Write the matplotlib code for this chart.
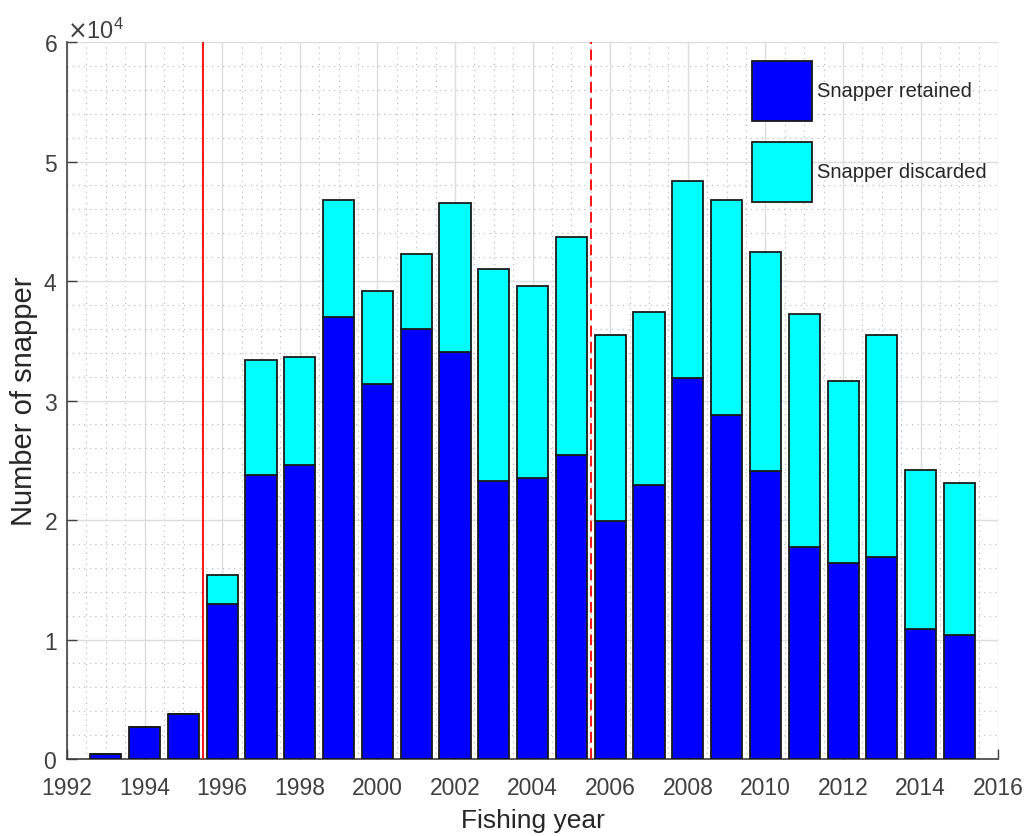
import numpy as np
import matplotlib.pyplot as plt
from matplotlib.ticker import MultipleLocator, ScalarFormatter

plt.rcParams['font.family'] = ['Liberation Sans', 'DejaVu Sans']

years = np.arange(1993, 2016)
retained = [400, 2650, 3790, 13000, 23800, 24600, 37000, 31400, 36000, 34100,
            23300, 23500, 25400, 19900, 22900, 31900, 28800, 24100, 17700,
            16400, 16900, 10900, 10400]
discarded_total = [400, 2650, 3790, 15400, 33400, 33600, 46800, 39200, 42300,
                   46500, 41000, 39600, 43700, 35500, 37400, 48400, 46800,
                   42400, 37200, 31600, 35500, 24200, 23100]
discarded = np.array(discarded_total) - np.array(retained)

txt = '#262626'
axc = '#404040'

fig = plt.figure(figsize=(10.29, 8.37), dpi=100)
ax = fig.add_axes([0.0651, 0.092, 0.905, 0.8566])

b1 = ax.bar(years, retained, width=0.8, color='#0000ff', edgecolor='#1a1a1a',
            linewidth=1.3, label='Snapper retained', zorder=3)
b2 = ax.bar(years, discarded, bottom=retained, width=0.8, color='#00ffff',
            edgecolor='#1a1a1a', linewidth=1.3, label='Snapper discarded', zorder=3)

# management change years
ax.axvline(1995.5, color='#ff0000', lw=1.3, zorder=4)
ax.axvline(2005.5, color='#ff0000', lw=1.3, ls=(0, (6, 3)), zorder=4)

ax.set_xlim(1992, 2016)
ax.set_ylim(0, 60000)
ax.xaxis.set_major_locator(MultipleLocator(2))
ax.xaxis.set_minor_locator(MultipleLocator(0.5))
ax.yaxis.set_major_locator(MultipleLocator(10000))
ax.yaxis.set_minor_locator(MultipleLocator(2000))

fmt = ScalarFormatter(useMathText=True)
fmt.set_powerlimits((0, 0))
ax.yaxis.set_major_formatter(fmt)
ax.yaxis.get_offset_text().set_fontsize(17)
ax.yaxis.get_offset_text().set_color(axc)

ax.grid(which='major', color='#dcdcdc', lw=1.0, zorder=0)
ax.grid(which='minor', color='#b4b4b4', lw=0.8, ls=(0, (1, 4)), zorder=0)
ax.set_axisbelow(True)

for s in ['top', 'right']:
    ax.spines[s].set_visible(False)
for s in ['left', 'bottom']:
    ax.spines[s].set_color(axc)
    ax.spines[s].set_linewidth(1.2)

ax.tick_params(which='major', direction='in', length=7, width=1.0,
               colors=axc, labelsize=16.5)
ax.tick_params(axis='x', which='major', pad=12)
ax.tick_params(axis='y', which='major', pad=7)
ax.tick_params(which='minor', length=0)

ax.set_xlabel('Fishing year', fontsize=19, color=txt, labelpad=7)
ax.set_ylabel('Number of snapper', fontsize=21, color=txt, labelpad=4)

leg = ax.legend(handles=[b1, b2], loc='upper left', bbox_to_anchor=(0.736, 0.974),
                frameon=False, borderpad=0, borderaxespad=0,
                handlelength=2.98, handleheight=4.21,
                labelspacing=1.05, handletextpad=0.25, fontsize=14.5)
for t in leg.get_texts():
    t.set_color(txt)

fig.savefig('out.png', dpi=100, facecolor='white')
